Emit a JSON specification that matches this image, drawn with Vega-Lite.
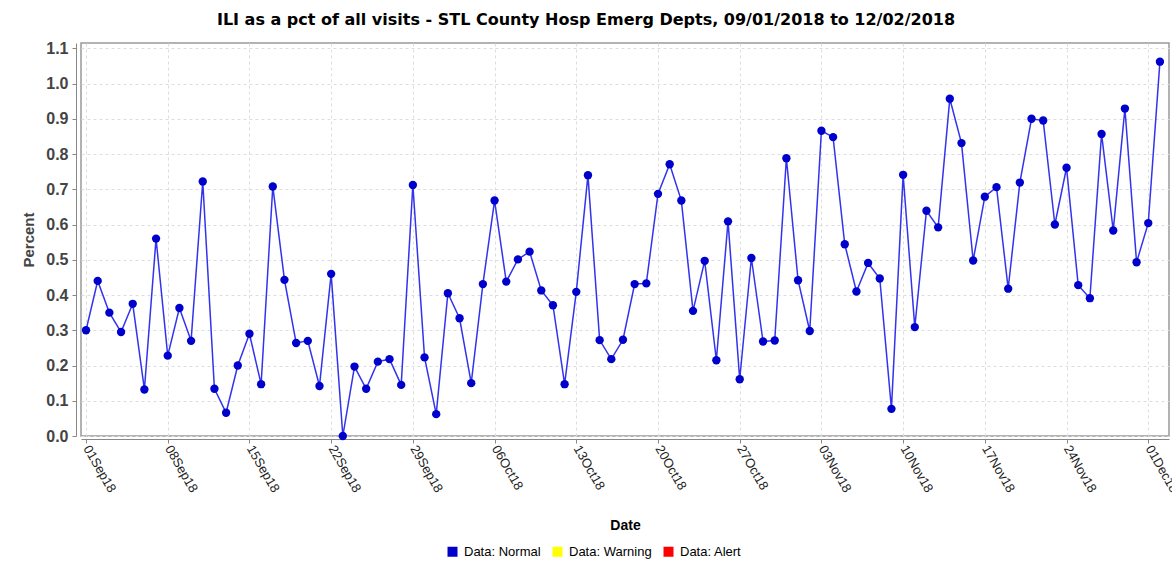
{
  "$schema": "https://vega.github.io/schema/vega-lite/v6.json",
  "width": 1088,
  "height": 393,
  "autosize": {"type": "none"},
  "padding": {"left": 81, "top": 43, "right": 3, "bottom": 126},
  "background": "white",
  "title": {
    "text": "ILI as a pct of all visits - STL County Hosp Emerg Depts, 09/01/2018 to 12/02/2018",
    "font": "DejaVu Sans",
    "fontSize": 16,
    "fontWeight": "bold",
    "color": "#000000",
    "anchor": "middle",
    "dx": -39,
    "offset": 12
  },
  "config": {
    "view": {"stroke": "#999999", "strokeWidth": 1.5},
    "axis": {
      "gridColor": "#dddddd",
      "gridDash": [3, 3],
      "gridWidth": 1,
      "domainColor": "#888888",
      "tickColor": "#888888",
      "tickSize": 4
    }
  },
  "data": {
    "values": [
      {"date": "2018-09-01", "pct": 0.300, "status": "Data: Normal"},
      {"date": "2018-09-02", "pct": 0.440, "status": "Data: Normal"},
      {"date": "2018-09-03", "pct": 0.350, "status": "Data: Normal"},
      {"date": "2018-09-04", "pct": 0.295, "status": "Data: Normal"},
      {"date": "2018-09-05", "pct": 0.375, "status": "Data: Normal"},
      {"date": "2018-09-06", "pct": 0.132, "status": "Data: Normal"},
      {"date": "2018-09-07", "pct": 0.560, "status": "Data: Normal"},
      {"date": "2018-09-08", "pct": 0.228, "status": "Data: Normal"},
      {"date": "2018-09-09", "pct": 0.363, "status": "Data: Normal"},
      {"date": "2018-09-10", "pct": 0.270, "status": "Data: Normal"},
      {"date": "2018-09-11", "pct": 0.722, "status": "Data: Normal"},
      {"date": "2018-09-12", "pct": 0.134, "status": "Data: Normal"},
      {"date": "2018-09-13", "pct": 0.066, "status": "Data: Normal"},
      {"date": "2018-09-14", "pct": 0.200, "status": "Data: Normal"},
      {"date": "2018-09-15", "pct": 0.290, "status": "Data: Normal"},
      {"date": "2018-09-16", "pct": 0.147, "status": "Data: Normal"},
      {"date": "2018-09-17", "pct": 0.708, "status": "Data: Normal"},
      {"date": "2018-09-18", "pct": 0.443, "status": "Data: Normal"},
      {"date": "2018-09-19", "pct": 0.264, "status": "Data: Normal"},
      {"date": "2018-09-20", "pct": 0.270, "status": "Data: Normal"},
      {"date": "2018-09-21", "pct": 0.142, "status": "Data: Normal"},
      {"date": "2018-09-22", "pct": 0.460, "status": "Data: Normal"},
      {"date": "2018-09-23", "pct": 0.000, "status": "Data: Normal"},
      {"date": "2018-09-24", "pct": 0.197, "status": "Data: Normal"},
      {"date": "2018-09-25", "pct": 0.134, "status": "Data: Normal"},
      {"date": "2018-09-26", "pct": 0.211, "status": "Data: Normal"},
      {"date": "2018-09-27", "pct": 0.218, "status": "Data: Normal"},
      {"date": "2018-09-28", "pct": 0.145, "status": "Data: Normal"},
      {"date": "2018-09-29", "pct": 0.712, "status": "Data: Normal"},
      {"date": "2018-09-30", "pct": 0.223, "status": "Data: Normal"},
      {"date": "2018-10-01", "pct": 0.062, "status": "Data: Normal"},
      {"date": "2018-10-02", "pct": 0.405, "status": "Data: Normal"},
      {"date": "2018-10-03", "pct": 0.334, "status": "Data: Normal"},
      {"date": "2018-10-04", "pct": 0.150, "status": "Data: Normal"},
      {"date": "2018-10-05", "pct": 0.431, "status": "Data: Normal"},
      {"date": "2018-10-06", "pct": 0.668, "status": "Data: Normal"},
      {"date": "2018-10-07", "pct": 0.438, "status": "Data: Normal"},
      {"date": "2018-10-08", "pct": 0.501, "status": "Data: Normal"},
      {"date": "2018-10-09", "pct": 0.523, "status": "Data: Normal"},
      {"date": "2018-10-10", "pct": 0.413, "status": "Data: Normal"},
      {"date": "2018-10-11", "pct": 0.371, "status": "Data: Normal"},
      {"date": "2018-10-12", "pct": 0.147, "status": "Data: Normal"},
      {"date": "2018-10-13", "pct": 0.409, "status": "Data: Normal"},
      {"date": "2018-10-14", "pct": 0.740, "status": "Data: Normal"},
      {"date": "2018-10-15", "pct": 0.272, "status": "Data: Normal"},
      {"date": "2018-10-16", "pct": 0.218, "status": "Data: Normal"},
      {"date": "2018-10-17", "pct": 0.273, "status": "Data: Normal"},
      {"date": "2018-10-18", "pct": 0.431, "status": "Data: Normal"},
      {"date": "2018-10-19", "pct": 0.433, "status": "Data: Normal"},
      {"date": "2018-10-20", "pct": 0.687, "status": "Data: Normal"},
      {"date": "2018-10-21", "pct": 0.771, "status": "Data: Normal"},
      {"date": "2018-10-22", "pct": 0.668, "status": "Data: Normal"},
      {"date": "2018-10-23", "pct": 0.355, "status": "Data: Normal"},
      {"date": "2018-10-24", "pct": 0.497, "status": "Data: Normal"},
      {"date": "2018-10-25", "pct": 0.215, "status": "Data: Normal"},
      {"date": "2018-10-26", "pct": 0.609, "status": "Data: Normal"},
      {"date": "2018-10-27", "pct": 0.161, "status": "Data: Normal"},
      {"date": "2018-10-28", "pct": 0.505, "status": "Data: Normal"},
      {"date": "2018-10-29", "pct": 0.268, "status": "Data: Normal"},
      {"date": "2018-10-30", "pct": 0.271, "status": "Data: Normal"},
      {"date": "2018-10-31", "pct": 0.788, "status": "Data: Normal"},
      {"date": "2018-11-01", "pct": 0.442, "status": "Data: Normal"},
      {"date": "2018-11-02", "pct": 0.298, "status": "Data: Normal"},
      {"date": "2018-11-03", "pct": 0.866, "status": "Data: Normal"},
      {"date": "2018-11-04", "pct": 0.848, "status": "Data: Normal"},
      {"date": "2018-11-05", "pct": 0.544, "status": "Data: Normal"},
      {"date": "2018-11-06", "pct": 0.410, "status": "Data: Normal"},
      {"date": "2018-11-07", "pct": 0.491, "status": "Data: Normal"},
      {"date": "2018-11-08", "pct": 0.447, "status": "Data: Normal"},
      {"date": "2018-11-09", "pct": 0.077, "status": "Data: Normal"},
      {"date": "2018-11-10", "pct": 0.741, "status": "Data: Normal"},
      {"date": "2018-11-11", "pct": 0.309, "status": "Data: Normal"},
      {"date": "2018-11-12", "pct": 0.639, "status": "Data: Normal"},
      {"date": "2018-11-13", "pct": 0.592, "status": "Data: Normal"},
      {"date": "2018-11-14", "pct": 0.957, "status": "Data: Normal"},
      {"date": "2018-11-15", "pct": 0.831, "status": "Data: Normal"},
      {"date": "2018-11-16", "pct": 0.498, "status": "Data: Normal"},
      {"date": "2018-11-17", "pct": 0.679, "status": "Data: Normal"},
      {"date": "2018-11-18", "pct": 0.706, "status": "Data: Normal"},
      {"date": "2018-11-19", "pct": 0.418, "status": "Data: Normal"},
      {"date": "2018-11-20", "pct": 0.719, "status": "Data: Normal"},
      {"date": "2018-11-21", "pct": 0.900, "status": "Data: Normal"},
      {"date": "2018-11-22", "pct": 0.895, "status": "Data: Normal"},
      {"date": "2018-11-23", "pct": 0.600, "status": "Data: Normal"},
      {"date": "2018-11-24", "pct": 0.761, "status": "Data: Normal"},
      {"date": "2018-11-25", "pct": 0.428, "status": "Data: Normal"},
      {"date": "2018-11-26", "pct": 0.391, "status": "Data: Normal"},
      {"date": "2018-11-27", "pct": 0.857, "status": "Data: Normal"},
      {"date": "2018-11-28", "pct": 0.583, "status": "Data: Normal"},
      {"date": "2018-11-29", "pct": 0.929, "status": "Data: Normal"},
      {"date": "2018-11-30", "pct": 0.493, "status": "Data: Normal"},
      {"date": "2018-12-01", "pct": 0.604, "status": "Data: Normal"},
      {"date": "2018-12-02", "pct": 1.062, "status": "Data: Normal"}
    ]
  },
  "encoding": {
    "x": {
      "field": "date",
      "type": "temporal",
      "scale": {
        "type": "utc",
        "domain": [
          {"year": 2018, "month": "aug", "date": 31, "hours": 13, "minutes": 40, "utc": true},
          {"year": 2018, "month": "dec", "date": 2, "hours": 18, "minutes": 40, "utc": true}
        ]
      },
      "axis": {
        "title": "Date",
        "titleFont": "Liberation Sans",
        "titleFontSize": 14,
        "titleFontWeight": "bold",
        "titleColor": "#000000",
        "titlePadding": 24,
        "format": "%d%b%y",
        "labelAngle": 60,
        "labelFont": "Liberation Sans",
        "labelFontSize": 13,
        "labelColor": "#222222",
        "labelPadding": 3,
        "labelOverlap": false,
        "offset": 3,
        "values": [
          {"year": 2018, "month": "sep", "date": 1, "utc": true},
          {"year": 2018, "month": "sep", "date": 8, "utc": true},
          {"year": 2018, "month": "sep", "date": 15, "utc": true},
          {"year": 2018, "month": "sep", "date": 22, "utc": true},
          {"year": 2018, "month": "sep", "date": 29, "utc": true},
          {"year": 2018, "month": "oct", "date": 6, "utc": true},
          {"year": 2018, "month": "oct", "date": 13, "utc": true},
          {"year": 2018, "month": "oct", "date": 20, "utc": true},
          {"year": 2018, "month": "oct", "date": 27, "utc": true},
          {"year": 2018, "month": "nov", "date": 3, "utc": true},
          {"year": 2018, "month": "nov", "date": 10, "utc": true},
          {"year": 2018, "month": "nov", "date": 17, "utc": true},
          {"year": 2018, "month": "nov", "date": 24, "utc": true},
          {"year": 2018, "month": "dec", "date": 1, "utc": true}
        ]
      }
    },
    "y": {
      "field": "pct",
      "type": "quantitative",
      "scale": {"domain": [0, 1.115], "nice": false, "zero": false},
      "axis": {
        "title": "Percent",
        "titleFont": "Liberation Sans",
        "titleFontSize": 15,
        "titleFontWeight": "bold",
        "titleColor": "#444444",
        "titlePadding": 9,
        "values": [0, 0.1, 0.2, 0.3, 0.4, 0.5, 0.6, 0.7, 0.8, 0.9, 1.0, 1.1],
        "format": ".1f",
        "labelFont": "Liberation Sans",
        "labelFontSize": 16,
        "labelFontWeight": "bold",
        "labelColor": "#444444",
        "labelPadding": 4,
        "offset": 5
      }
    }
  },
  "layer": [
    {
      "mark": {"type": "line", "color": "#3333ee", "strokeWidth": 1.5}
    },
    {
      "mark": {"type": "point", "filled": true, "opacity": 1, "size": 70},
      "encoding": {
        "color": {
          "field": "status",
          "type": "nominal",
          "scale": {
            "domain": ["Data: Normal", "Data: Warning", "Data: Alert"],
            "range": ["#0000cc", "#ffff00", "#ff0000"]
          },
          "legend": {
            "title": null,
            "orient": "none",
            "direction": "horizontal",
            "legendX": 365,
            "legendY": 502,
            "symbolType": "square",
            "symbolSize": 100,
            "symbolStrokeWidth": 0,
            "labelFont": "Liberation Sans",
            "labelFontSize": 13,
            "labelColor": "#000000",
            "columnPadding": 10,
            "labelOffset": 5
          }
        }
      }
    }
  ]
}
